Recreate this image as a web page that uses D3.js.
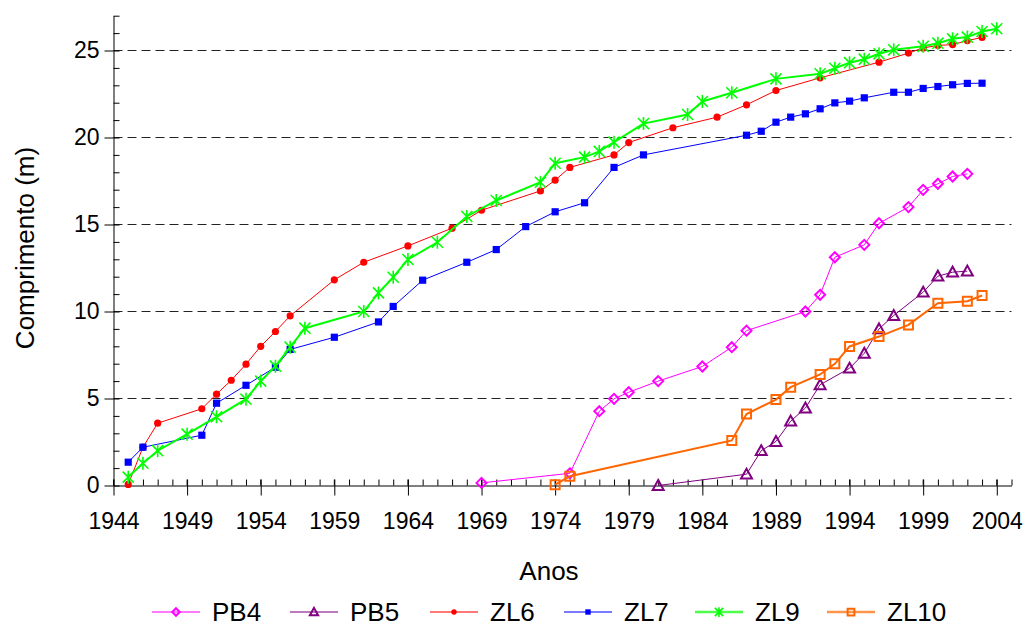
<!DOCTYPE html>
<html>
<head>
<meta charset="utf-8">
<script src="https://cdn.jsdelivr.net/npm/d3@7/dist/d3.min.js"></script>
<style>
  html, body { margin: 0; padding: 0; background: #fff; }
  svg { display: block; font-family: "Liberation Sans", Arial, Helvetica, sans-serif; }
</style>
</head>
<body>
<svg id="chart" width="1030" height="630"></svg>
<script>
// ---- data ----
const xTickLabels = [1944, 1949, 1954, 1959, 1964, 1969, 1974, 1979, 1984, 1989, 1994, 1999, 2004];
const yTickLabels = [0, 5, 10, 15, 20, 25];

const pb4Years = [1969,1975,1977,1978,1979,1981,1984,1986,1987,1991,1992,1993,1995,1996,1998,1999,2000,2001,2002];
const pb4Values = [0.15,0.7,4.27,4.98,5.36,6.0,6.84,7.95,8.9,10.0,10.96,13.12,13.83,15.07,16.0,16.99,17.34,17.76,17.91];

const pb5Years = [1981,1987,1988,1989,1990,1991,1992,1994,1995,1996,1997,1999,2000,2001,2002];
const pb5Values = [0,0.65,2.0,2.53,3.7,4.45,5.79,6.74,7.6,9.0,9.77,11.11,12.03,12.26,12.32];

const zl6Years = [1945,1946,1947,1950,1951,1952,1953,1954,1955,1956,1959,1961,1964,1967,1969,1973,1974,1975,1978,1979,1982,1985,1987,1989,1992,1996,1998,1999,2000,2001,2002,2003];
const zl6Values = [0.06,2.2,3.58,4.41,5.25,6.05,6.97,8.0,8.85,9.75,11.82,12.83,13.77,14.79,15.82,16.93,17.55,18.28,19.0,19.71,20.56,21.17,21.88,22.7,23.43,24.33,24.85,25.15,25.29,25.34,25.57,25.75];

const zl7Years = [1945,1946,1950,1951,1953,1955,1956,1959,1962,1963,1965,1968,1970,1972,1974,1976,1978,1980,1987,1988,1989,1990,1991,1992,1993,1994,1995,1997,1998,1999,2000,2001,2002,2003];
const zl7Values = [1.34,2.2,2.89,4.73,5.76,6.8,7.82,8.52,9.4,10.29,11.8,12.83,13.56,14.88,15.73,16.25,18.28,19.0,20.13,20.36,20.88,21.17,21.36,21.65,21.99,22.09,22.28,22.6,22.6,22.82,22.93,23.03,23.11,23.12];

const zl9Years = [1945,1946,1947,1949,1951,1953,1954,1955,1956,1957,1961,1962,1963,1964,1966,1968,1970,1973,1974,1976,1977,1978,1980,1983,1984,1986,1989,1992,1993,1994,1995,1996,1997,1999,2000,2001,2002,2003,2004];
const zl9Values = [0.48,1.28,2.0,2.95,3.95,4.96,6.0,6.86,7.95,9.04,10.0,11.07,11.97,12.99,13.98,15.46,16.38,17.43,18.52,18.87,19.2,19.73,20.8,21.32,22.07,22.57,23.37,23.66,23.98,24.3,24.5,24.81,25.04,25.24,25.42,25.67,25.77,26.09,26.25];

const zl10Years = [1974,1975,1986,1987,1989,1990,1992,1993,1994,1996,1998,2000,2002,2003];
const zl10Values = [0.05,0.53,2.59,4.11,4.94,5.65,6.38,6.99,7.99,8.56,9.23,10.48,10.59,10.92];

const seriesNames = ["PB4", "PB5", "ZL6", "ZL7", "ZL9", "ZL10"];

// ---- styling ----
const styles = {
  PB4:  { color: "#FF00FF", width: 1,   marker: "diamond",  size: 5,   fill: false },
  PB5:  { color: "#800080", width: 1,   marker: "triangle", size: 5.5, fill: false },
  ZL6:  { color: "#FF0000", width: 1,   marker: "circle",   size: 3.6, fill: true },
  ZL7:  { color: "#0000FF", width: 1,   marker: "square",   size: 3.6, fill: true },
  ZL9:  { color: "#00FF00", width: 2,   marker: "star",     size: 6.5, fill: false },
  ZL10: { color: "#FF6600", width: 2,   marker: "square",   size: 4.5, fill: false }
};

const series = [
  { name: "PB4", years: pb4Years, values: pb4Values },
  { name: "PB5", years: pb5Years, values: pb5Values },
  { name: "ZL6", years: zl6Years, values: zl6Values },
  { name: "ZL7", years: zl7Years, values: zl7Values },
  { name: "ZL9", years: zl9Years, values: zl9Values },
  { name: "ZL10", years: zl10Years, values: zl10Values }
];

const FONT = '"Liberation Sans", Arial, sans-serif';
const svg = d3.select("#chart");
const x = d3.scaleLinear().domain([1944, 2005]).range([113.5, 1011.5]);
const y = d3.scaleLinear().domain([0, 27]).range([485.5, 15.7]);

// gridlines
svg.append("g")
  .selectAll("line")
  .data(yTickLabels.filter(d => d > 0))
  .join("line")
  .attr("x1", x(1944)).attr("x2", x(2005))
  .attr("y1", d => y(d)).attr("y2", d => y(d))
  .attr("stroke", "#222").attr("stroke-width", 1)
  .attr("stroke-dasharray", "9,5");

// minor ticks (inside)
const yearsAll = d3.range(1944, 2006);
svg.append("g")
  .attr("transform", `translate(0,${y(0)})`)
  .call(d3.axisBottom(x).tickValues(yearsAll).tickSize(-6).tickSizeOuter(0).tickFormat(""))
  .call(g => g.select(".domain").remove());
svg.append("g")
  .attr("transform", `translate(${x(1944)},0)`)
  .call(d3.axisLeft(y).tickValues(d3.range(0, 28)).tickSize(-6).tickSizeOuter(0).tickFormat(""))
  .call(g => g.select(".domain").remove());

// major axes
const xAxis = svg.append("g")
  .attr("transform", `translate(0,${y(0)})`)
  .call(d3.axisBottom(x).tickValues(xTickLabels).tickSizeInner(10).tickSizeOuter(0).tickPadding(17).tickFormat(d3.format("d")));
const yAxis = svg.append("g")
  .attr("transform", `translate(${x(1944)},0)`)
  .call(d3.axisLeft(y).tickValues(yTickLabels).tickSizeInner(9).tickSizeOuter(0).tickPadding(5));
[xAxis, yAxis].forEach(g => {
  g.selectAll("line, path").attr("stroke", "#000").attr("stroke-width", 1);
  g.selectAll("text").attr("fill", "#000").style("font-size", "23px").style("font-family", FONT);
});
// major ticks cross the axis
svg.append("g")
  .selectAll("line").data(xTickLabels).join("line")
  .attr("x1", d => x(d) ).attr("x2", d => x(d))
  .attr("y1", y(0)).attr("y2", y(0) - 6).attr("stroke", "#000");

// axis titles
svg.append("text")
  .attr("x", 549).attr("y", 580)
  .attr("text-anchor", "middle")
  .style("font-size", "26px").text("Anos");
svg.append("text")
  .attr("transform", "translate(34,248) rotate(-90)")
  .attr("text-anchor", "middle")
  .style("font-size", "26px").text("Comprimento (m)");

// marker drawing
function markerPath(type, s) {
  switch (type) {
    case "diamond": return `M0,${-s}L${s},0L0,${s}L${-s},0Z`;
    case "triangle": return `M0,${-s}L${s},${s*0.8}L${-s},${s*0.8}Z`;
    case "square": return `M${-s},${-s}H${s}V${s}H${-s}Z`;
    case "circle": return d3.symbol(d3.symbolCircle, Math.PI * s * s)();
    case "star": {
      const d = s * 0.85;
      return `M0,${-s}V${s}M${-d},${-d}L${d},${d}M${-d},${d}L${d},${-d}`;
    }
  }
}

function drawMarker(g, type, st, scale) {
  const s = st.size * scale;
  const p = g.append("path").attr("d", markerPath(type, s));
  if (type === "star") {
    p.attr("fill", "none").attr("stroke", st.color).attr("stroke-width", 1.6);
  } else if (st.fill) {
    p.attr("fill", st.color).attr("stroke", "none");
  } else {
    p.attr("fill", "none").attr("stroke", st.color).attr("stroke-width", 2);
  }
  return p;
}

// series
const line = d3.line().x(d => x(d[0])).y(d => y(d[1]));
series.forEach(s => {
  const st = styles[s.name];
  const pts = s.years.map((yr, i) => [yr, s.values[i]]);
  const g = svg.append("g").attr("class", "series-" + s.name);
  g.append("path").datum(pts)
    .attr("d", line)
    .attr("fill", "none").attr("stroke", st.color).attr("stroke-width", st.width);
  pts.forEach(p => {
    const mg = g.append("g").attr("transform", `translate(${x(p[0])},${y(p[1])})`);
    drawMarker(mg, st.marker, st, 1);
  });
});

// legend
const legendItems = [
  { name: "PB4",  lx: 152 },
  { name: "PB5",  lx: 290 },
  { name: "ZL6",  lx: 430 },
  { name: "ZL7",  lx: 564 },
  { name: "ZL9",  lx: 695 },
  { name: "ZL10", lx: 827 }
];
const ly = 612;
legendItems.forEach(it => {
  const st = styles[it.name];
  const g = svg.append("g");
  g.append("line").attr("x1", it.lx).attr("x2", it.lx + 48)
    .attr("y1", ly).attr("y2", ly)
    .attr("stroke", st.color).attr("stroke-width", st.width + 0.5).attr("stroke-opacity", 0.7);
  const mg = g.append("g").attr("transform", `translate(${it.lx + 24},${ly})`);
  drawMarker(mg, st.marker, st, 0.75);
  g.append("text").attr("x", it.lx + 60).attr("y", ly + 9)
    .style("font-size", "26px").text(it.name);
});
</script>
</body>
</html>
